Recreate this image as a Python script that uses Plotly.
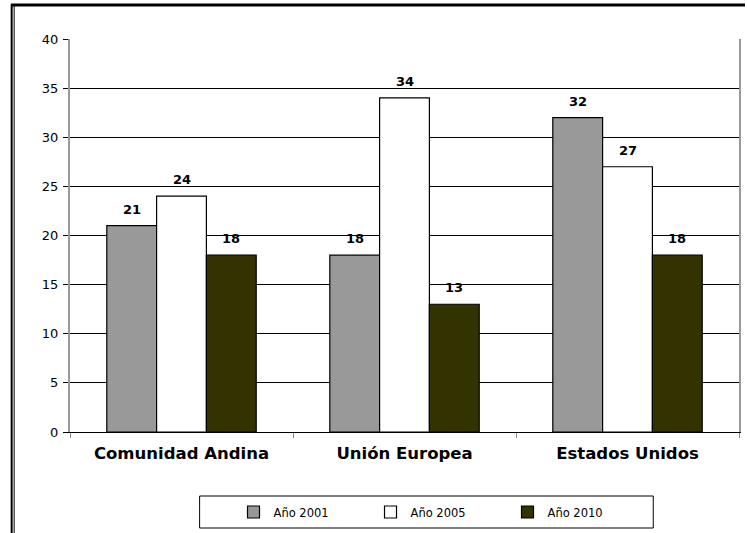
import plotly.graph_objects as go

categories = ["Comunidad Andina", "Unión Europea", "Estados Unidos"]
series_names = ["Año 2001", "Año 2005", "Año 2010"]
v2001 = [21, 18, 32]
v2005 = [24, 34, 27]
v2010 = [18, 13, 18]
yticks = [0, 5, 10, 15, 20, 25, 30, 35, 40]

colors = ["#999999", "#FFFFFF", "#333300"]
W, H = 747, 533
L, R, T, B = 70, 6, 39, 101
pw, ph = W - L - R, H - T - B
FONT = "DejaVu Sans"
BARGAP = 0.33

def px_x(x):
    return (x - L) / pw

def px_y(y):
    return (H - B - y) / ph

series = [v2001, v2005, v2010]
fig = go.Figure()
for name, vals, col in zip(series_names, series, colors):
    fig.add_trace(go.Bar(
        x=categories, y=vals, name=name,
        marker=dict(color=col, line=dict(color="#000000", width=1.2)),
    ))

bar_w = pw / len(categories) * (1 - BARGAP) / len(series)
annotations = []
for i, vals in enumerate(series):
    off = (i - (len(series) - 1) / 2) * bar_w
    for c, v in zip(categories, vals):
        annotations.append(dict(
            x=c, y=v, xref="x", yref="y", text="<b>%d</b>" % v,
            showarrow=False, xanchor="center", yanchor="bottom",
            xshift=off, yshift=7,
            font=dict(family=FONT, size=13, color="#000000")))

fig.update_layout(
    width=W, height=H,
    margin=dict(l=L, r=R, t=T, b=B),
    paper_bgcolor="white", plot_bgcolor="white",
    barmode="group", bargap=BARGAP, bargroupgap=0,
    font=dict(family=FONT, color="#000000"),
    showlegend=True,
    annotations=annotations,
    legend=dict(orientation="h", x=px_x(234), xanchor="left",
                y=px_y(512), yanchor="middle",
                entrywidth=92, entrywidthmode="pixels",
                font=dict(size=11.5, family=FONT),
                bgcolor="rgba(0,0,0,0)", traceorder="normal"),
    xaxis=dict(showline=True, linecolor="#000000", linewidth=1,
               ticks="outside", tickson="boundaries", ticklen=5, tickcolor="#888888",
               tickfont=dict(size=16.5, family=FONT, color="#000000"),
               tickvals=categories, ticktext=["<b>" + c + "</b>" for c in categories],
               ticklabelstandoff=6,
               showgrid=False),
    yaxis=dict(range=[0, 40], tickvals=yticks, showgrid=True, gridcolor="#000000",
               gridwidth=1, showline=True, linecolor="#999999", linewidth=2, mirror=True,
               ticks="outside", ticklen=5, tickcolor="#000000",
               tickfont=dict(size=13, family=FONT, color="#000000"),
               ticklabelstandoff=2,
               zeroline=False),
    shapes=[
        # legend box
        dict(type="rect", xref="paper", yref="paper",
             x0=px_x(200), x1=px_x(655), y0=px_y(528), y1=px_y(496),
             line=dict(color="#000000", width=1), fillcolor="rgba(0,0,0,0)", layer="below"),
        # outer frame top
        dict(type="line", xref="paper", yref="paper",
             x0=px_x(11), x1=px_x(747), y0=px_y(5), y1=px_y(5),
             line=dict(color="#000000", width=3)),
        # outer frame left double line
        dict(type="line", xref="paper", yref="paper",
             x0=px_x(11.5), x1=px_x(11.5), y0=px_y(4), y1=px_y(533),
             line=dict(color="#000000", width=2)),
        dict(type="line", xref="paper", yref="paper",
             x0=px_x(14), x1=px_x(14), y0=px_y(6), y1=px_y(533),
             line=dict(color="#000000", width=1)),
    ],
)

fig.write_html("out.html", config={"displayModeBar": False},
               post_script="document.body.style.margin='0';document.body.style.padding='0';document.body.style.overflow='hidden';")
